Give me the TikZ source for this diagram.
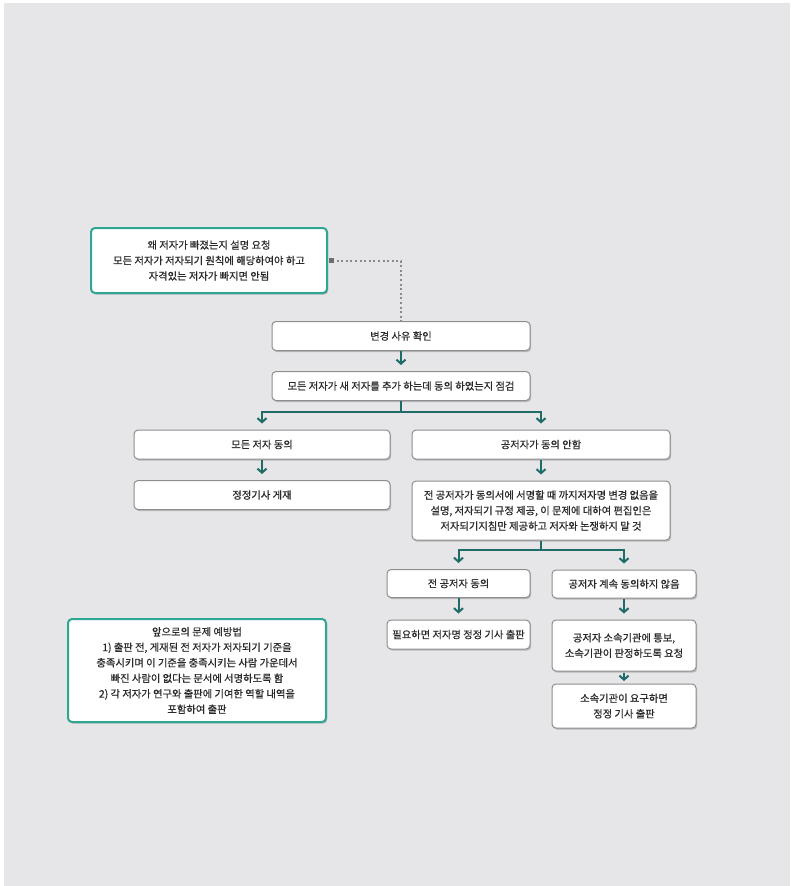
\documentclass[tikz,border=0pt]{standalone}
\usepackage{fontspec}
\setmainfont{Noto Sans CJK KR}
\newfontfamily\kf[FakeBold=0.6]{Noto Sans CJK KR}
\usetikzlibrary{arrows.meta,shadows,calc}
\definecolor{bgc}{HTML}{E6E6E8}
\definecolor{tealb}{HTML}{2EA692}
\definecolor{arrc}{HTML}{1F6B67}
\definecolor{boxb}{HTML}{8E8E90}
\definecolor{txt}{HTML}{2A2A2A}
\definecolor{dotc}{HTML}{8A8A8A}
\begin{document}
\begin{tikzpicture}[x=1pt,y=-1pt,
  base/.style={rectangle, rounded corners=4pt, fill=white, align=center, text=txt,
    font=\kf\fontsize{10.3}{15.5}\selectfont, inner sep=2pt,
    drop shadow={shadow xshift=1.2pt, shadow yshift=-1.6pt, opacity=0.35, fill=black!60}},
  box/.style={base, draw=boxb, line width=1pt},
  tbox/.style={base, draw=tealb, line width=2pt},
  conn/.style={draw=arrc, line width=2pt},
  arr/.style={conn, -{Straight Barb[length=4pt,width=9pt,line width=2pt]}, shorten >=6pt},
  dotline/.style={draw=dotc, line width=2pt, dash pattern=on 2pt off 2.6pt}
]
\useasboundingbox (0,0) rectangle (790,886);
\fill[bgc] (4,3) rectangle (790,886);

\node[tbox, minimum width=236, minimum height=65] (b1) at (209,260.5)
  {왜 저자가 빠졌는지 설명 요청\\모든 저자가 저자되기 원칙에 해당하여야 하고\\자격있는 저자가 빠지면 안됨};
\node[box, minimum width=258, minimum height=29] (b2) at (401,336) {변경 사유 확인};
\node[box, minimum width=258, minimum height=29] (b3) at (401,386) {모든 저자가 새 저자를 추가 하는데 동의 하였는지 점검};
\node[box, minimum width=256, minimum height=29] (b4) at (262,444.5) {모든 저자 동의};
\node[box, minimum width=256, minimum height=29] (b5) at (262,495) {정정기사 게재};
\node[box, minimum width=258, minimum height=29] (b6) at (541,444.5) {공저자가 동의 안함};
\node[box, minimum width=258, minimum height=59] (b7) at (541,510.5)
  {전 공저자가 동의서에 서명할 때 까지저자명 변경 없음을\\설명, 저자되기 규정 제공, 이 문제에 대하여 편집인은\\저자되기지침만 제공하고 저자와 논쟁하지 말 것};
\node[box, minimum width=143, minimum height=28] (b8) at (458.5,583.5) {전 공저자 동의};
\node[box, minimum width=144, minimum height=28] (b9) at (624,584) {공저자 계속 동의하지 않음};
\node[box, minimum width=143, minimum height=29] (b10) at (458.5,634.5) {필요하면 저자명 정정 기사 출판};
\node[box, minimum width=144, minimum height=51] (b11) at (624,645.5) {공저자 소속기관에 통보,\\소속기관이 판정하도록 요청};
\node[box, minimum width=144, minimum height=44] (b12) at (624,706) {소속기관이 요구하면\\정정 기사 출판};
\node[tbox, minimum width=258, minimum height=103] (b13) at (197,670.5)
  {앞으로의 문제 예방법\\1) 출판 전, 게재된 전 저자가 저자되기 기준을\\충족시키며 이 기준을 충족시키는 사람 가운데서\\빠진 사람이 없다는 문서에 서명하도록 함\\2) 각 저자가 연구와 출판에 기여한 역할 내역을\\포함하여 출판};

% dotted connector
\draw[dotline] ($(b1.east)+(4,0)$) -| (b2.north);
\fill[dotc!80!black] ($(b1.east)+(1,-2.5)$) rectangle ++(5,5);

% arrows
\draw[arr] (b2) -- (b3);
\coordinate (s1) at (401,412);
\draw[conn] (b3.south) -- (s1);
\draw[arr] (s1) -| (b4.north);
\draw[arr] (s1) -| (b6.north);
\draw[arr] (b4) -- (b5);
\draw[arr] (b6) -- (b7);
\coordinate (s2) at (541,550);
\draw[conn] (b7.south) -- (s2);
\draw[arr] (s2) -| (b8.north);
\draw[arr] (s2) -| (b9.north);
\draw[arr] (b8) -- (b10);
\draw[arr] (b9) -- (b11);
\draw[arr, shorten <=1pt, shorten >=2.5pt] (b11) -- (b12);
\end{tikzpicture}
\end{document}
